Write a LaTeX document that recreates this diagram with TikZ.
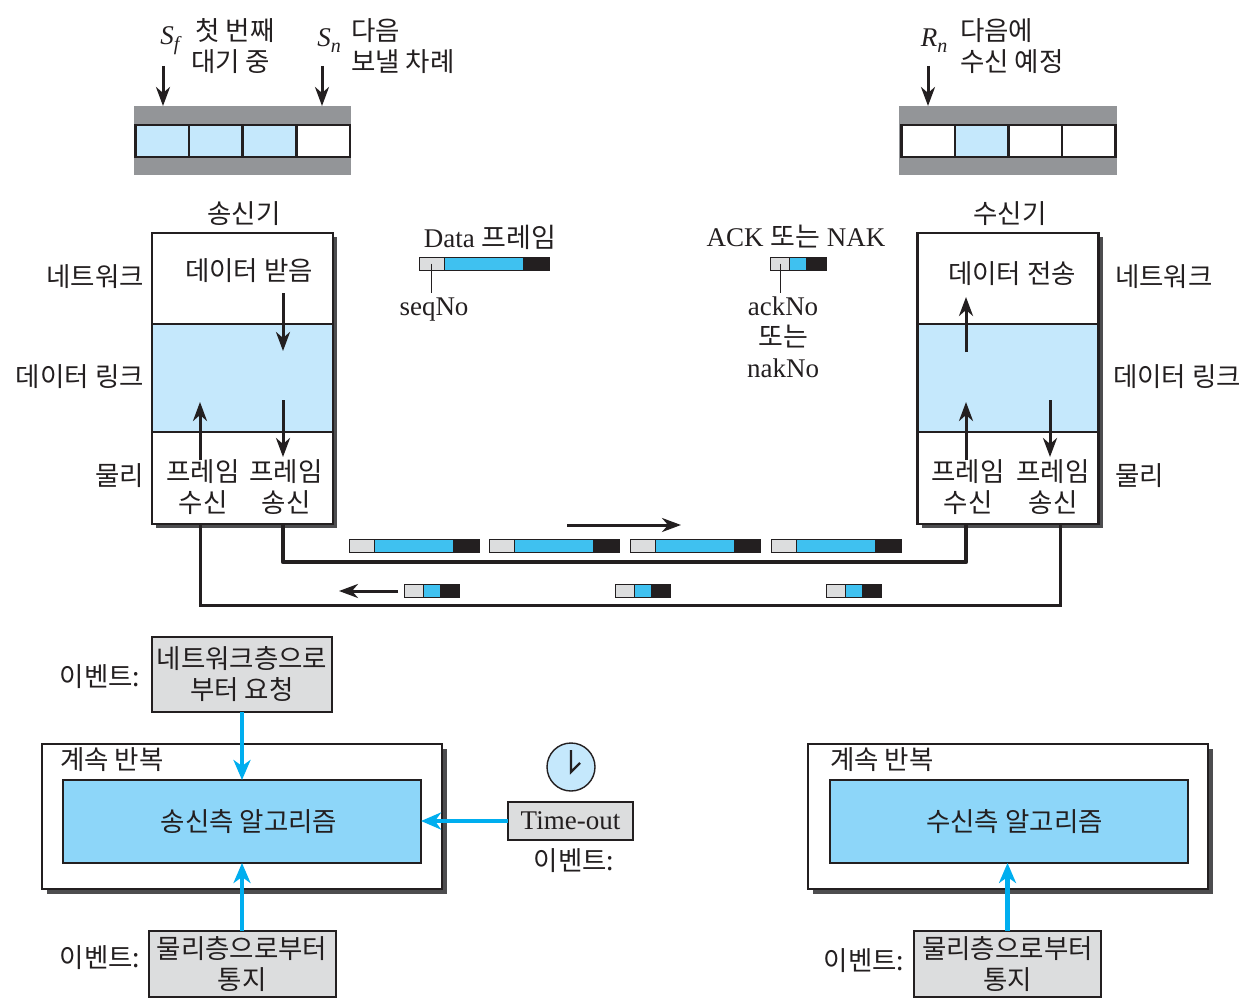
\documentclass[tikz,border=0pt]{standalone}
\usepackage{fontspec}
\setmainfont{Liberation Serif}
\newfontfamily\kr{Noto Sans CJK KR}
\usetikzlibrary{positioning,arrows.meta,shadows}
\definecolor{inkBlack}{HTML}{231F20}
\definecolor{barGray}{HTML}{939598}
\definecolor{shadowGray}{HTML}{4D4D4F}
\definecolor{eventGray}{HTML}{DCDDDE}
\definecolor{bandBlue}{HTML}{C5E8FC}
\definecolor{algoBlue}{HTML}{8DD6F9}
\definecolor{frameBlue}{HTML}{3FC1F0}
\definecolor{eventCyan}{HTML}{00AEEF}

\begin{document}
\begin{tikzpicture}[
    x=1pt, y=-1pt,
    txt/.style={
        inner sep=0pt, align=center, text=inkBlack,
        font=\kr\fontsize{26.5}{31}\selectfont
    },
    lat/.style={
        inner sep=0pt, align=center, text=inkBlack,
        font=\fontsize{27}{31}\selectfont
    },
    bar/.style={
        rectangle, fill=barGray,
        inner sep=0pt, outer sep=0pt
    },
    cell/.style={
        rectangle, draw=inkBlack, line width=2.5pt,
        minimum width=53.5pt, minimum height=32pt,
        inner sep=0pt, outer sep=0pt
    },
    layerbox/.style={
        rectangle, draw=inkBlack, fill=white, line width=2.2pt,
        minimum width=181pt, minimum height=291pt,
        inner sep=0pt, outer sep=0pt,
        drop shadow={shadow xshift=4pt, shadow yshift=-4pt, fill=shadowGray, opacity=1}
    },
    band/.style={
        rectangle, draw=inkBlack, fill=bandBlue, line width=2.2pt,
        minimum width=181pt, minimum height=108pt,
        inner sep=0pt, outer sep=0pt
    },
    part/.style={
        rectangle, inner sep=0pt, outer sep=0pt,
        minimum height=13pt, draw=inkBlack, line width=0.8pt
    },
    eventbox/.style={
        rectangle, draw=inkBlack, fill=eventGray, line width=2pt,
        inner sep=0pt, outer sep=0pt
    },
    loopbox/.style={
        rectangle, draw=inkBlack, fill=white, line width=2.5pt,
        minimum width=400pt, minimum height=145pt,
        inner sep=0pt, outer sep=0pt,
        drop shadow={shadow xshift=5pt, shadow yshift=-5pt, fill=shadowGray, opacity=1}
    },
    algobox/.style={
        rectangle, draw=inkBlack, fill=algoBlue, line width=2pt,
        minimum width=358pt, minimum height=83pt,
        inner sep=0pt, outer sep=0pt, text=inkBlack,
        font=\kr\fontsize{26.5}{31}\selectfont
    },
    arrow/.style={-{Stealth[length=19pt, width=14pt, inset=6pt]}, line width=3pt, draw=inkBlack},
    evarrow/.style={-{Stealth[length=20pt, width=17pt, inset=6pt]}, line width=4.4pt, draw=eventCyan},
    tick/.style={line width=1pt, draw=inkBlack}
]
  \useasboundingbox (0,0) rectangle (1241,1000);

  % Windows
  \node[bar, minimum width=217pt, minimum height=69pt] (sendwin) at (242.5,140.5) {};
  \node[bar, minimum width=218pt, minimum height=69pt] (recvwin) at (1008,140.5) {};
  \foreach \cx/\cf [count=\k] in {162/bandBlue,215.5/bandBlue,269/bandBlue,323/white}
    \node[cell, fill=\cf] (sendcell\k) at (\cx,141) {};
  \foreach \cx/\cf [count=\k] in {928/white,981.5/bandBlue,1035/white,1088.5/white}
    \node[cell, fill=\cf] (recvcell\k) at (\cx,141) {};

  % Window pointers
  \coordinate (sfTop) at (163,66);
  \coordinate (snTop) at (322,66);
  \coordinate (rnTop) at (928,66);
  \draw[arrow] (sfTop) -- (sfTop |- sendwin.north);
  \draw[arrow] (snTop) -- (snTop |- sendwin.north);
  \draw[arrow] (rnTop) -- (rnTop |- recvwin.north);
  \node[lat] (sfname) at (170,41) {{\itshape S}\raisebox{-6pt}{\fontsize{20}{20}\selectfont\itshape f}};
  \node[lat] (snname) at (329,41) {{\itshape S}\raisebox{-6pt}{\fontsize{20}{20}\selectfont\itshape n}};
  \node[lat] (rnname) at (934,41) {{\itshape R}\raisebox{-6pt}{\fontsize{20}{20}\selectfont\itshape n}};
  \node[txt, align=left, anchor=west] (sfnote) at (191,46) {\,첫 번째\\대기 중};
  \node[txt, align=left, anchor=west] (snnote) at (351,46) {다음\\보낼 차례};
  \node[txt, align=left, anchor=west] (rnnote) at (960,46) {다음에\\수신 예정};

  % Sender and receiver stacks
  \node[layerbox] (sender) at (242.5,378.5) {};
  \node[band] (sendlink) at (242.5,378) {};
  \node[layerbox] (receiver) at (1008,378.5) {};
  \node[band] (recvlink) at (1008,378) {};
  \node[txt] (sendtitle) at (244,214) {송신기};
  \node[txt] (recvtitle) at (1010,214) {수신기};
  \node[txt, anchor=east] (sendnet) at (144,277) {네트워크};
  \node[txt, anchor=east] (sendlay) at (144,377) {데이터 링크};
  \node[txt, anchor=east] (sendphy) at (144,476) {물리};
  \node[txt, anchor=west] (recvnet) at (1115,277) {네트워크};
  \node[txt, anchor=west] (recvlay) at (1113,377) {데이터 링크};
  \node[txt, anchor=west] (recvphy) at (1115,476) {물리};
  \node[txt] (sendacc) at (249,271) {데이터 받음};
  \node[txt] (recvdel) at (1012,274) {데이터 전송};
  \node[txt] (sendrx) at (203,487) {프레임\\수신};
  \node[txt] (sendtx) at (286,487) {프레임\\송신};
  \node[txt] (recvrx) at (968,487) {프레임\\수신};
  \node[txt] (recvtx) at (1053,487) {프레임\\송신};

  % Arrows inside the stacks
  \coordinate (sa1) at (283,293);  \coordinate (sa2) at (283,351);
  \coordinate (sb1) at (283,400);  \coordinate (sb2) at (283,457);
  \coordinate (sc1) at (200,460);  \coordinate (sc2) at (200,402);
  \coordinate (ra1) at (966,352);  \coordinate (ra2) at (966,297);
  \coordinate (rb1) at (966,460);  \coordinate (rb2) at (966,402);
  \coordinate (rc1) at (1050,400); \coordinate (rc2) at (1050,457);
  \foreach \p/\q in {sa1/sa2,sb1/sb2,sc1/sc2,ra1/ra2,rb1/rb2,rc1/rc2}
    \draw[arrow] (\p) -- (\q);

  % Frame legends
  \node[lat] (datalabel) at (490,237) {Data {\kr 프레임}};
  \node[part, fill=eventGray, minimum width=25pt, anchor=west] (lgdh) at (419,263.5) {};
  \node[part, fill=frameBlue, minimum width=79pt, right=0pt of lgdh] (lgdb) {};
  \node[part, fill=inkBlack, minimum width=26pt, right=0pt of lgdb] (lgdt) {};
  \node[lat] (seqlabel) at (434,310) {seqNo};
  \draw[tick] (431,263.5) -- (431,293);

  \node[lat] (acklabel) at (796,237) {ACK {\kr 또는} NAK};
  \node[part, fill=eventGray, minimum width=19pt, anchor=west] (lgah) at (770,263.5) {};
  \node[part, fill=frameBlue, minimum width=17pt, right=0pt of lgah] (lgab) {};
  \node[part, fill=inkBlack, minimum width=20pt, right=0pt of lgab] (lgat) {};
  \node[lat] (acknum) at (783,337) {ackNo\\{\kr 또는}\\nakNo};
  \draw[tick] (780,263.5) -- (780,293);

  % Wires
  \coordinate (txFoot) at (283,524);
  \coordinate (rxFoot) at (966,524);
  \coordinate (ackFootS) at (200,524);
  \coordinate (ackFootR) at (1060,524);
  \draw[line width=4.4pt, draw=inkBlack, line join=round] (txFoot) -- ++(0,38) -| (rxFoot);
  \draw[line width=3pt, draw=inkBlack] (ackFootS) -- ++(0,81) -| (ackFootR);

  % Frames on the wires
  \foreach \fx [count=\k] in {349,489,630,771} {
    \node[part, fill=eventGray, minimum width=25pt, anchor=west] (dh\k) at (\fx,545.5) {};
    \node[part, fill=frameBlue, minimum width=79pt, right=0pt of dh\k] (db\k) {};
    \node[part, fill=inkBlack, minimum width=26pt, right=0pt of db\k] (dt\k) {};
  }
  \foreach \fx [count=\k] in {404,615,826} {
    \node[part, fill=eventGray, minimum width=19pt, anchor=west] (ah\k) at (\fx,591) {};
    \node[part, fill=frameBlue, minimum width=17pt, right=0pt of ah\k] (ab\k) {};
    \node[part, fill=inkBlack, minimum width=19pt, right=0pt of ab\k] (at\k) {};
  }
  \coordinate (dirA1) at (567,525); \coordinate (dirA2) at (681,525);
  \coordinate (dirB1) at (398,591); \coordinate (dirB2) at (339,591);
  \draw[arrow] (dirA1) -- (dirA2);
  \draw[arrow] (dirB1) -- (dirB2);

  % Sender events
  \node[loopbox] (sendloop) at (242,816.5) {};
  \node[algobox] (sendalgo) at (242,821.5) {\hspace{14pt}송신측 알고리즘};
  \node[txt] (sendrep) at (112,760) {계속 반복};
  \node[eventbox, minimum width=180pt, minimum height=75pt, txt] (netreq) at (242,674.5) {네트워크층으로\\부터 요청};
  \node[txt] (netev) at (100,677) {이벤트:};
  \node[eventbox, minimum width=187pt, minimum height=66pt, txt] (sendphyev) at (242,964) {물리층으로부터\\통지};
  \node[txt] (sendphyevl) at (100,958) {이벤트:};
  \node[eventbox, minimum width=125pt, minimum height=38pt, lat] (timeout) at (570.5,821) {Time-out};
  \node[txt] (timeoutev) at (574,861) {이벤트:};
  \node[circle, draw=inkBlack, fill=bandBlue, line width=1.4pt, minimum size=48pt, inner sep=0pt] (clock) at (571,767) {};
  \draw[line width=2.2pt, draw=inkBlack] ([yshift=17pt]clock.center) -- ([yshift=-5pt]clock.center) -- ([xshift=9pt,yshift=4pt]clock.center);

  % Receiver events
  \node[loopbox] (recvloop) at (1008,816.5) {};
  \node[algobox] (recvalgo) at (1008.5,821.5) {\hspace{12pt}수신측 알고리즘};
  \node[txt] (recvrep) at (882,760) {계속 반복};
  \node[eventbox, minimum width=187pt, minimum height=66pt, txt] (recvphyev) at (1007.5,964) {물리층으로부터\\통지};
  \node[txt] (recvphyevl) at (864,961) {이벤트:};

  % Event arrows
  \draw[evarrow] (netreq.south) -- (sendalgo.north);
  \draw[evarrow] (sendphyev.north) -- (sendalgo.south);
  \draw[evarrow] (timeout.west) -- (timeout.west -| sendalgo.east);
  \draw[evarrow] (recvphyev.north) -- (recvphyev.north |- recvalgo.south);

\end{tikzpicture}
\end{document}
